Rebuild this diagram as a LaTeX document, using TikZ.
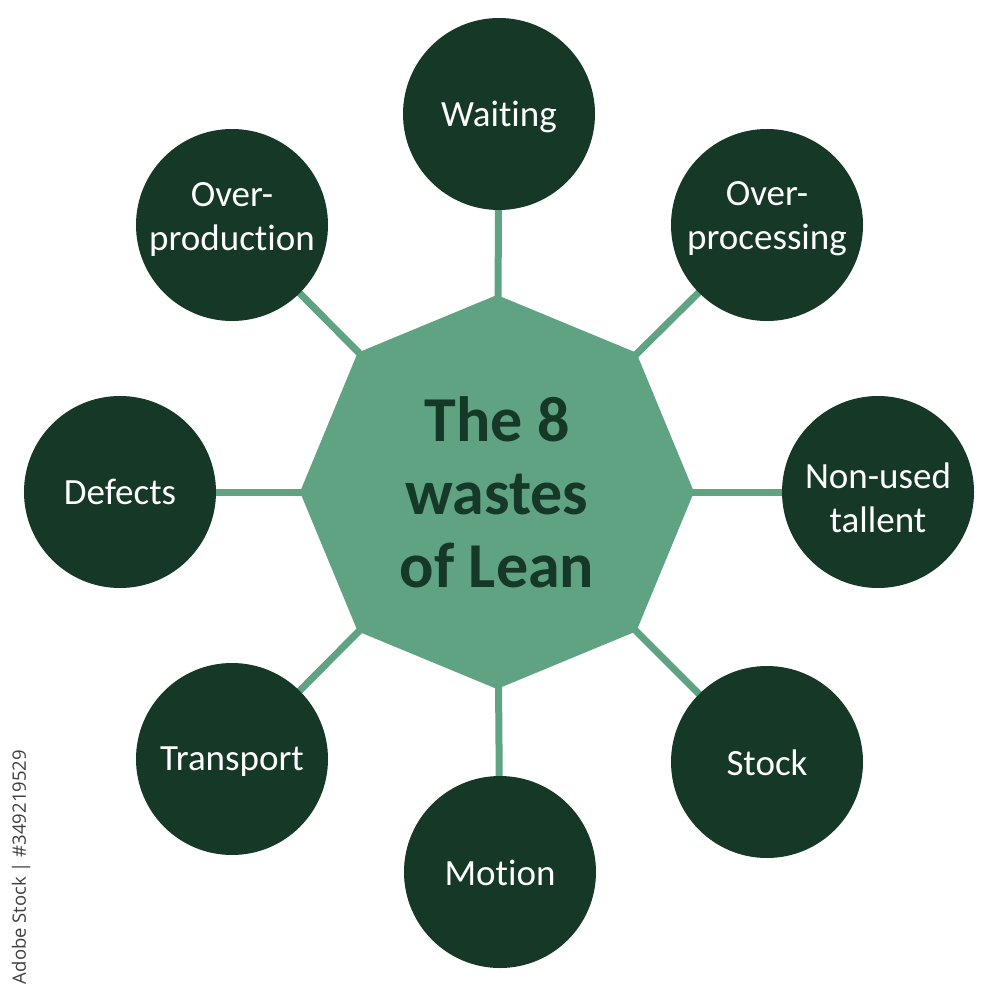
\documentclass[tikz,border=0pt]{standalone}
\usepackage{fontspec}
\setmainfont{Carlito}[Ligatures=NoCommon]
\newfontfamily\wmfont{Open Sans}
\usetikzlibrary{shapes.geometric,backgrounds}
\definecolor{darkgreen}{HTML}{163826}
\definecolor{midgreen}{HTML}{5FA383}
\tikzset{
  waste/.style={circle, fill=darkgreen, minimum size=192pt, inner sep=0pt, outer sep=0pt},
  wtext/.style={text=white, align=center, font=\fontsize{37}{44}\selectfont, inner sep=0pt},
  hub/.style={regular polygon, regular polygon sides=8, shape border rotate=22.5,
    minimum size=394pt, inner sep=0pt, outer sep=0pt, fill=midgreen,
    text=darkgreen, align=center, font=\bfseries\fontsize{64}{73}\selectfont},
  link/.style={draw=midgreen, line width=7pt}
}
\begin{document}
\begin{tikzpicture}[x=1pt,y=-1pt]
\useasboundingbox (0,0) rectangle (1000,987);
\node[hub] (hub) at (497,492) {The 8\\wastes\\of Lean};
\node[waste] (w1) at (499,114) {};
\node[waste] (w2) at (767,225) {};
\node[waste] (w3) at (878,492) {};
\node[waste] (w4) at (767,762) {};
\node[waste] (w5) at (500,872) {};
\node[waste] (w6) at (232,759) {};
\node[waste] (w7) at (120,492) {};
\node[waste] (w8) at (232,225) {};
\node[wtext] (t1) at ([yshift=-3pt]w1.center) {Waiting};
\node[wtext] (t2) at ([yshift=6pt]w2.center) {Over-\\processing};
\node[wtext] (t3) at ([yshift=-6pt]w3.center) {Non-used\\tallent};
\node[wtext] (t4) at ([yshift=-1pt]w4.center) {Stock};
\node[wtext] (t5) at ([yshift=-1pt]w5.center) {Motion};
\node[wtext] (t6) at ([yshift=-3pt]w6.center) {Transport};
\node[wtext] (t7) at (w7.center) {Defects};
\node[wtext] (t8) at ([yshift=6pt]w8.center) {Over-\\production};
\begin{scope}[on background layer]
\foreach \w in {w1,w2,w3,w4,w5,w6,w7,w8}
  \draw[link] (hub.center) -- (\w.center);
\end{scope}
\node[rotate=90, text=black!75, font=\wmfont\fontsize{18.5}{20}\selectfont, inner sep=0pt] (wm) at (21,867) {Adobe Stock | \#349219529};
\end{tikzpicture}
\end{document}
